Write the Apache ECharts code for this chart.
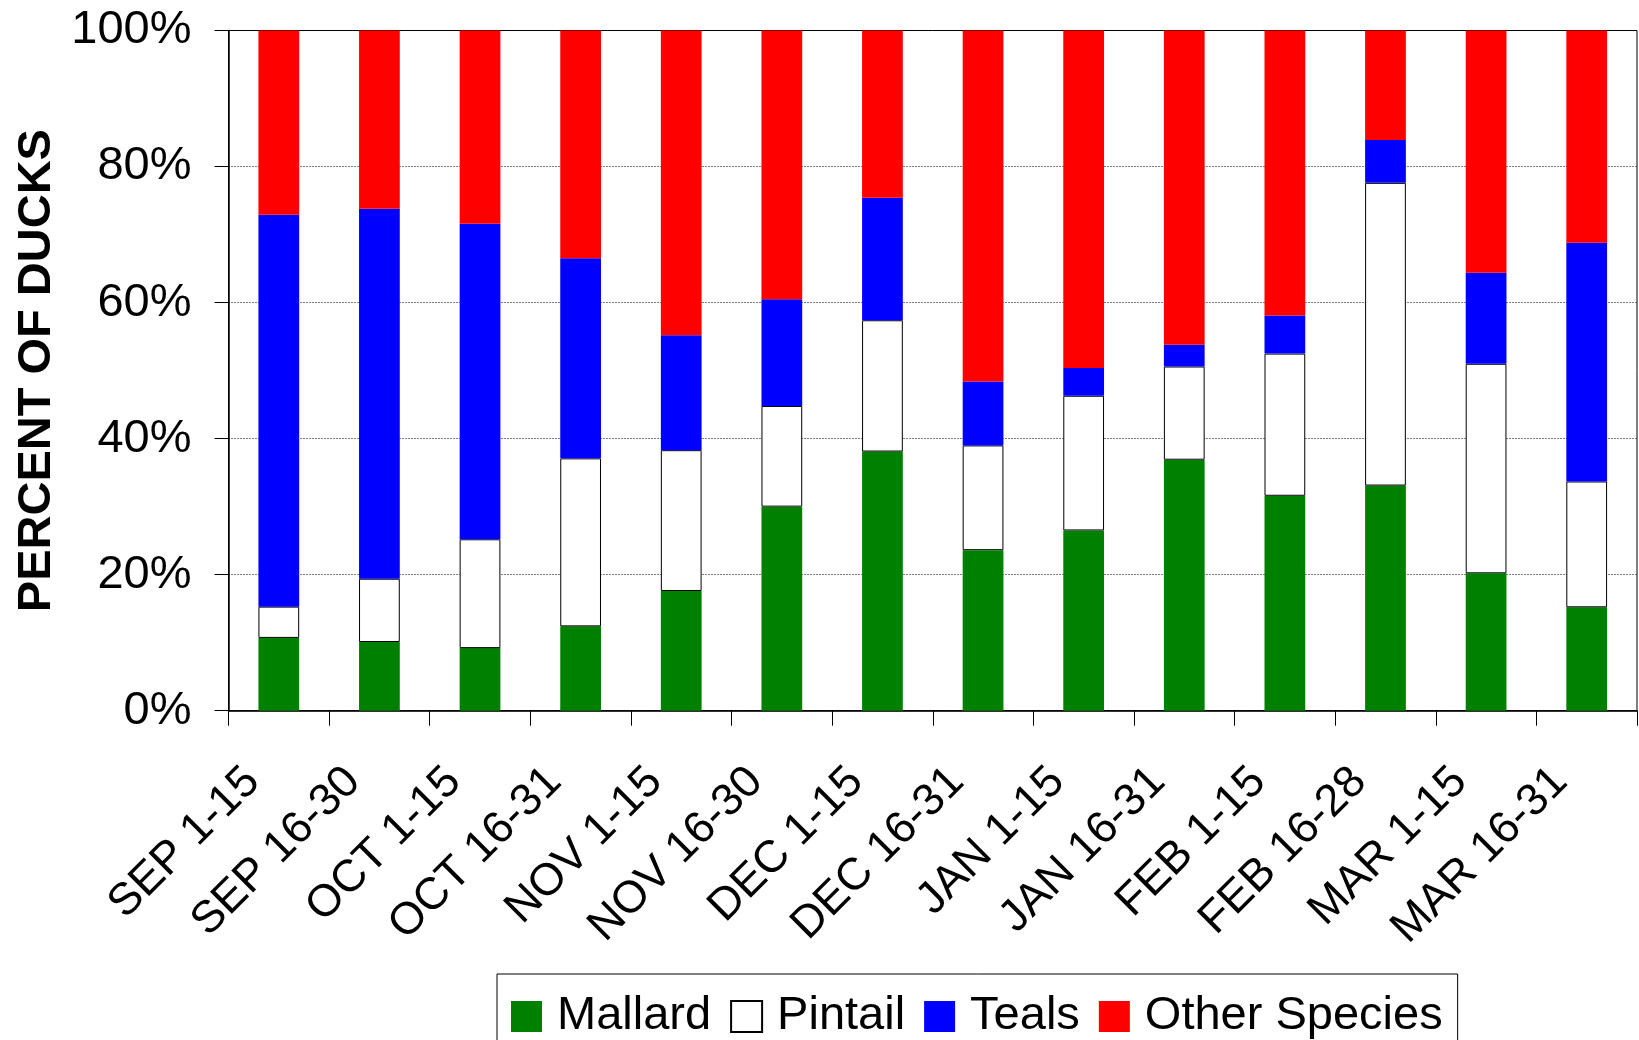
<!DOCTYPE html>
<html>
<head>
<meta charset="utf-8">
<script src="https://cdn.jsdelivr.net/npm/echarts@6/dist/echarts.min.js"></script>
<style>
html,body{margin:0;padding:0;background:#fff;}
#chart{width:1639px;height:1040px;}
</style>
</head>
<body>
<div id="chart"></div>
<script>
const categories = ['SEP 1-15','SEP 16-30','OCT 1-15','OCT 16-31','NOV 1-15','NOV 16-30','DEC 1-15','DEC 16-31','JAN 1-15','JAN 16-31','FEB 1-15','FEB 16-28','MAR 1-15','MAR 16-31'];
const mallard = [10.7, 10.1, 9.2, 12.4, 17.6, 30.0, 38.1, 23.6, 26.5, 36.9, 31.6, 33.1, 20.2, 15.2];
const pintail = [4.6, 9.3, 16.0, 24.7, 20.7, 14.8, 19.3, 15.4, 19.8, 13.7, 20.9, 44.5, 30.8, 18.5];
const teals = [57.6, 54.4, 46.4, 29.4, 16.9, 15.7, 18.0, 9.4, 4.1, 3.2, 5.6, 6.3, 13.4, 35.1];
const other = [27.1, 26.2, 28.4, 33.5, 44.8, 39.5, 24.6, 51.6, 49.6, 46.2, 41.9, 16.1, 35.6, 31.2];
const seriesNames = ['Mallard', 'Pintail', 'Teals', 'Other Species'];
const yTicks = {min: 0, max: 100, interval: 20};

const FONT = "'Liberation Sans', Arial, sans-serif";
const chart = echarts.init(document.getElementById('chart'), null, {renderer: 'canvas'});

function bar(name, data, color, border) {
  return {
    name: name,
    type: 'bar',
    stack: 'total',
    data: data,
    barWidth: '40.5%',
    itemStyle: {
      color: color,
      borderColor: border ? '#000' : color,
      borderWidth: border ? 1 : 0
    },
    emphasis: {disabled: true}
  };
}

chart.setOption({
  animation: false,
  backgroundColor: '#fff',
  grid: {
    left: 228.5, top: 30.5, right: 2, bottom: 329.3,
    show: true, borderColor: '#000', borderWidth: 1, backgroundColor: 'transparent'
  },
  legend: {
    left: 497, top: 974,
    orient: 'horizontal',
    itemWidth: 31, itemHeight: 31, itemGap: 19,
    padding: [19, 15, 30, 14],
    borderColor: '#000', borderWidth: 1,
    icon: 'rect',
    textStyle: {fontFamily: FONT, fontSize: 47, color: '#000', padding: [0, 0, 0, 10]},
    data: seriesNames
  },
  xAxis: {
    type: 'category',
    data: categories,
    boundaryGap: true,
    axisLine: {show: true, lineStyle: {color: '#000', width: 1.5}},
    axisTick: {show: true, interval: 0, length: 15, lineStyle: {color: '#000', width: 1}},
    axisLabel: {
      interval: 0, rotate: 45, margin: 38,
      padding: [0, 37, 0, 0],
      fontFamily: FONT, fontSize: 45, color: '#000'
    },
    splitLine: {show: false}
  },
  yAxis: {
    type: 'value',
    min: yTicks.min, max: yTicks.max, interval: yTicks.interval,
    name: 'PERCENT OF DUCKS',
    nameLocation: 'middle',
    nameGap: 168,
    nameTextStyle: {fontFamily: FONT, fontSize: 47, fontWeight: 'bold', color: '#000'},
    axisLine: {show: true, lineStyle: {color: '#000', width: 1.5}},
    axisTick: {show: true, length: 14, lineStyle: {color: '#000', width: 1}},
    axisLabel: {
      margin: 37,
      formatter: '{value}%',
      fontFamily: FONT, fontSize: 47, color: '#000'
    },
    splitLine: {show: true, lineStyle: {color: '#000', type: [1, 2], width: 1}}
  },
  series: [
    bar(seriesNames[0], mallard, '#008000', false),
    bar(seriesNames[1], pintail, '#ffffff', true),
    bar(seriesNames[2], teals, '#0000ff', false),
    bar(seriesNames[3], other, '#ff0000', false)
  ]
});
</script>
</body>
</html>
